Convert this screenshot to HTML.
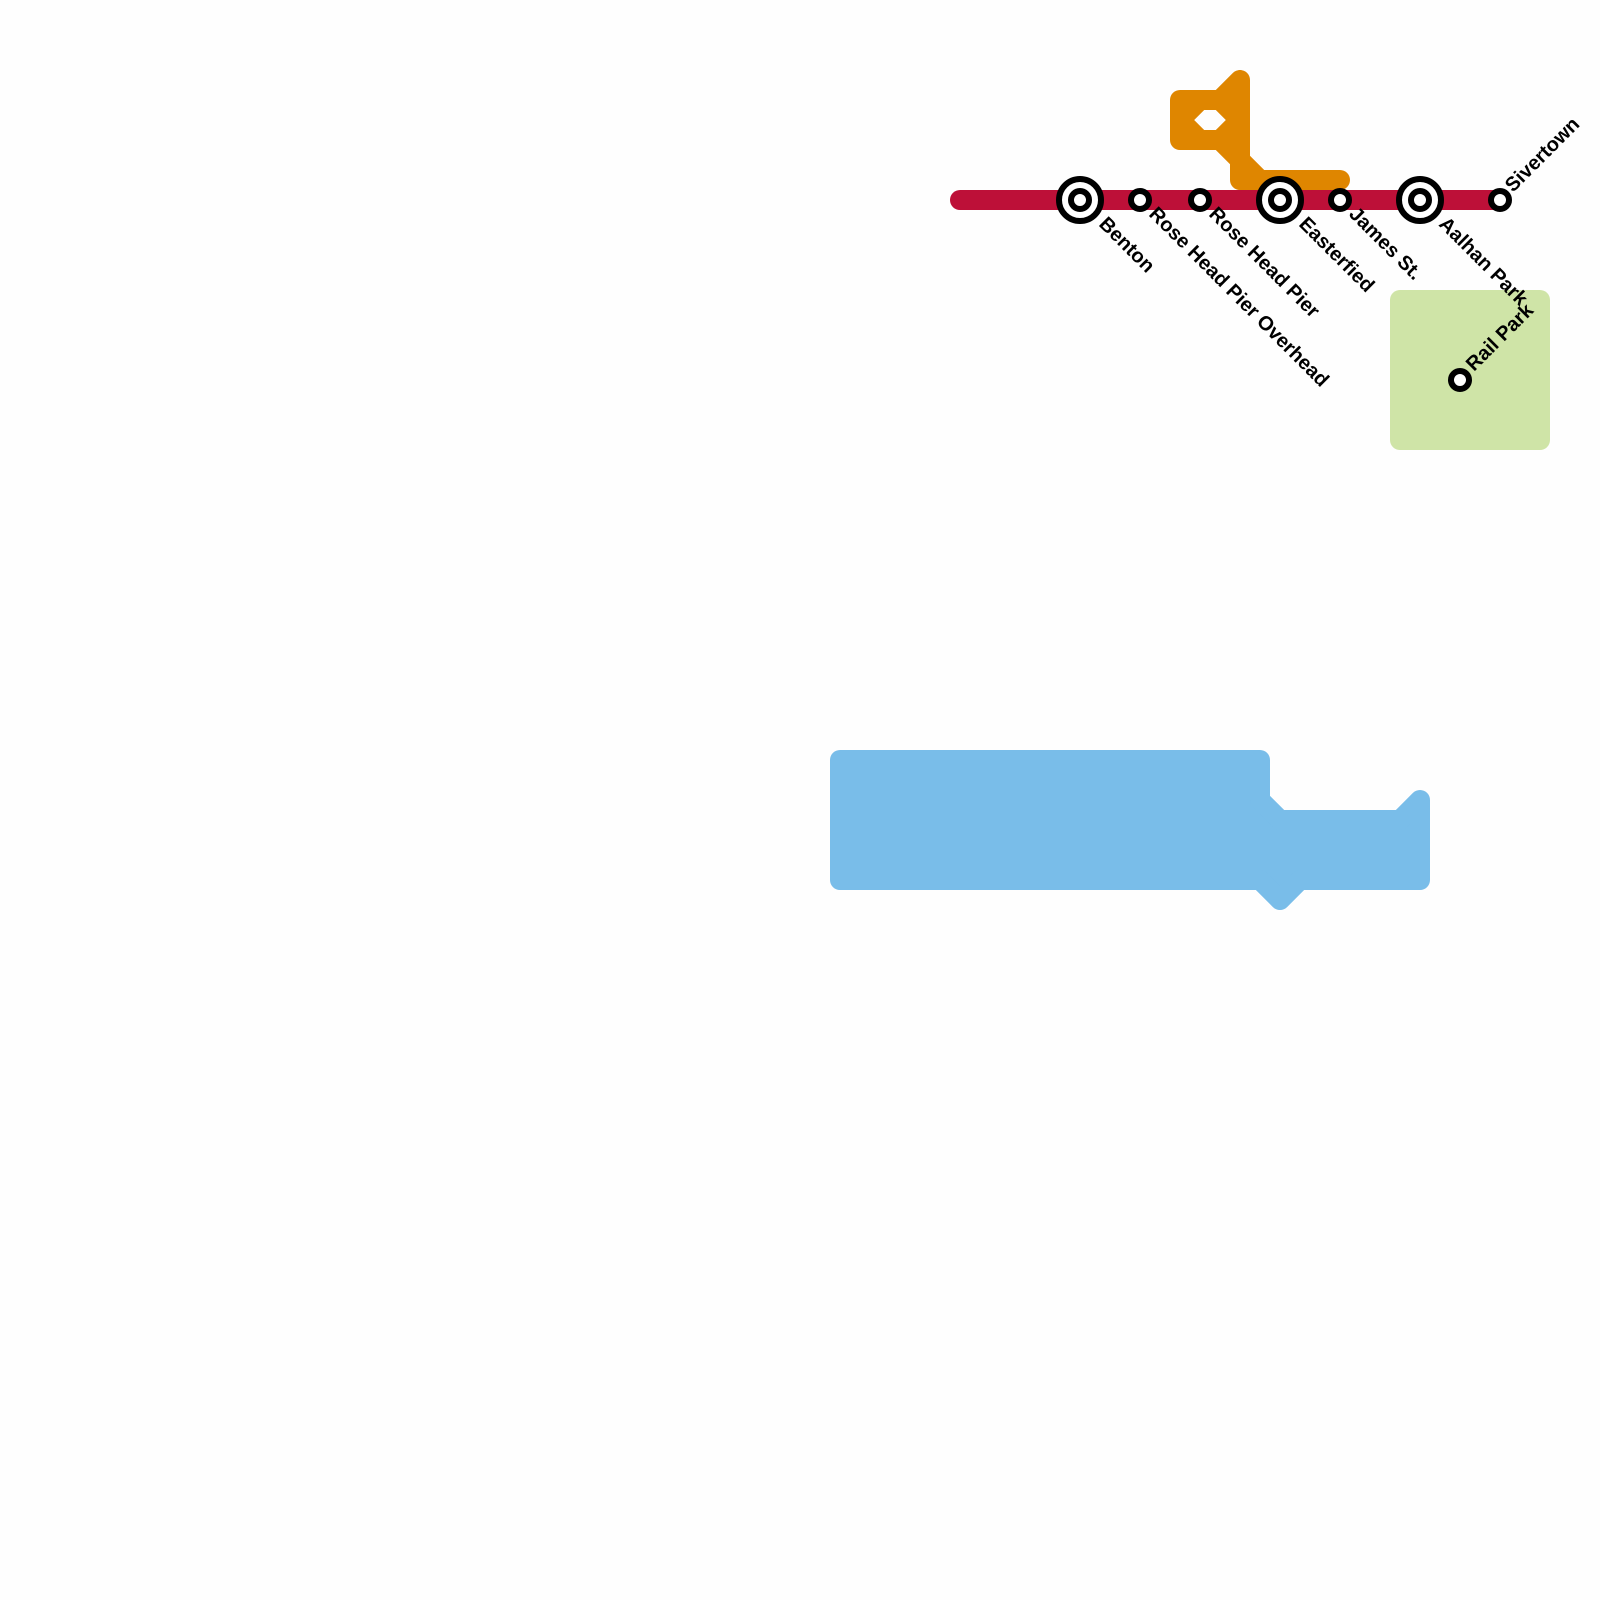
<!DOCTYPE html>
<html>
<head>
<meta charset="utf-8">
<style>
html,body{margin:0;padding:0;background:#fefefe}
svg{display:block}
text{font-family:"Liberation Sans",sans-serif;font-weight:bold;font-size:20px;fill:#000;text-rendering:geometricPrecision}
</style>
</head>
<body>
<svg width="1600" height="1600" viewBox="0 0 1600 1600" xmlns="http://www.w3.org/2000/svg">
<rect width="1600" height="1600" fill="#fefefe"/>
<rect x="1390" y="290" width="160" height="160" rx="10" fill="#cfe4a7"/>
<path d="M840 760H1260V800L1280 820H1400L1420 800V880H1300L1280 900L1260 880H840Z" fill="#79bde9" stroke="#79bde9" stroke-width="20" stroke-linejoin="round"/>
<g fill="none" stroke="#df8600" stroke-width="20" stroke-linejoin="round" stroke-linecap="round">
<path d="M1240 80L1220 100H1180V140H1220L1240 160V80"/>
<path d="M1220 100L1240 120L1220 140"/>
<path d="M1200 100L1180 120L1200 140"/>
<path d="M1240 160V180H1340"/>
<path d="M1240 160L1260 180"/>
</g>
<path d="M960 200H1500" fill="none" stroke="#bd1038" stroke-width="20" stroke-linecap="round"/>
<g fill="#fff" stroke="#000" stroke-width="6">
<circle cx="1080" cy="200" r="21"/><circle cx="1080" cy="200" r="9"/>
<circle cx="1280" cy="200" r="21"/><circle cx="1280" cy="200" r="9"/>
<circle cx="1420" cy="200" r="21"/><circle cx="1420" cy="200" r="9"/>
<circle cx="1140" cy="200" r="9"/>
<circle cx="1200" cy="200" r="9"/>
<circle cx="1340" cy="200" r="9"/>
<circle cx="1500" cy="200" r="9"/>
<circle cx="1460" cy="380" r="9"/>
</g>
<text transform="translate(1098,225) rotate(45)">Benton</text>
<text transform="translate(1148,215) rotate(45)">Rose Head Pier Overhead</text>
<text transform="translate(1208,215) rotate(45)">Rose Head Pier</text>
<text transform="translate(1298,225) rotate(45)">Easterfied</text>
<text transform="translate(1348,215) rotate(45)">James St.</text>
<text transform="translate(1438,225) rotate(45)">Aalhan Park</text>
<text transform="translate(1513,193) rotate(-45)">Sivertown</text>
<text transform="translate(1474,372) rotate(-45)">Rail Park</text>
</svg>
</body>
</html>
